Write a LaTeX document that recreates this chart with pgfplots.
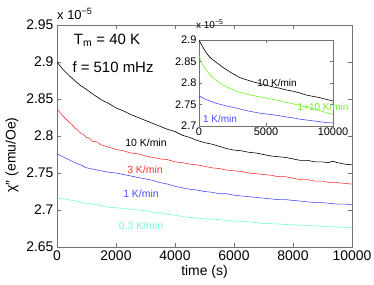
\documentclass[border=0pt]{standalone}
\usepackage{fontspec}
\setmainfont{Liberation Sans}
\usepackage{pgfplots}
\pgfplotsset{compat=1.18}
\definecolor{cred}{rgb}{1,0.2,0.2}
\definecolor{cblue}{rgb}{0.3,0.3,1}
\definecolor{caqua}{rgb}{0.45,1,0.85}
\definecolor{cgreen}{rgb}{0.45,0.95,0.15}
\definecolor{axgray}{gray}{0.45}
\begin{document}
\begin{tikzpicture}[x=1bp,y=1bp]
\useasboundingbox (0,0) rectangle (374,285);
\begin{axis}[at={(57bp,38bp)}, anchor=south west,
  scale only axis, width=295bp, height=222bp,
  xmin=0, xmax=10000, ymin=2.65, ymax=2.95,
  xtick={0,2000,4000,6000,8000,10000},
  ytick={2.65,2.7,2.75,2.8,2.85,2.9,2.95},
  scaled ticks=false,
  /pgf/number format/assume math mode=true,
  /pgf/number format/1000 sep={},
  tick align=inside, major tick length=4bp,
  axis line style={axgray}, tick style={axgray},
  tick label style={font=\fontsize{14}{14}\selectfont},
  xlabel={time (s)}, xlabel style={font=\fontsize{14}{14}\selectfont, yshift=2bp},
]
\addplot[black, line width=0.6pt] coordinates {
(0,2.900)(100,2.895)(200,2.890)(400,2.882)(600,2.875)(800,2.868)(1000,2.863)(1200,2.857)
(1500,2.849)(1750,2.844)(2000,2.838)(2250,2.834)(2500,2.829)(2750,2.825)(3000,2.821)(3250,2.817)
(3500,2.813)(3750,2.809)(4000,2.806)(4250,2.801)(4500,2.798)(4750,2.794)(5000,2.791)(5250,2.789)
(5500,2.786)(5750,2.783)(6000,2.781)(6250,2.780)(6500,2.778)(6750,2.777)(7000,2.775)(7250,2.773)
(7500,2.772)(7750,2.771)(8000,2.769)(8250,2.767)(8500,2.767)(8750,2.765)(9000,2.765)(9200,2.764)
(9350,2.766)(9500,2.764)(9750,2.762)(10000,2.761)};
\addplot[cred, line width=0.6pt] coordinates {
(0,2.837)(100,2.832)(200,2.827)(300,2.823)(400,2.819)(500,2.816)(600,2.811)(700,2.808)
(800,2.804)(900,2.802)(1000,2.798)(1100,2.797)(1200,2.793)(1350,2.792)(1500,2.788)(1750,2.785)
(2000,2.782)(2250,2.780)(2500,2.777)(2750,2.776)(3000,2.773)(3250,2.771)(3500,2.769)(3750,2.768)
(4000,2.765)(4250,2.764)(4500,2.762)(4750,2.761)(5000,2.759)(5250,2.757)(5500,2.756)(5750,2.754)
(6000,2.753)(6250,2.752)(6500,2.750)(6750,2.749)(7000,2.748)(7250,2.747)(7500,2.745)(7750,2.745)
(8000,2.743)(8250,2.741)(8500,2.741)(8750,2.739)(9000,2.739)(9250,2.737)(9500,2.737)(9750,2.736)(10000,2.735)};
\addplot[cblue, line width=0.6pt] coordinates {
(0,2.776)(150,2.773)(300,2.770)(450,2.767)(600,2.764)(800,2.761)(1000,2.757)(1250,2.755)
(1500,2.753)(1750,2.751)(2000,2.750)(2250,2.748)(2500,2.746)(2750,2.744)(3000,2.742)(3250,2.740)
(3500,2.737)(3750,2.735)(4000,2.732)(4250,2.730)(4500,2.728)(4750,2.727)(5000,2.725)(5250,2.724)
(5500,2.722)(5750,2.722)(6000,2.720)(6250,2.719)(6500,2.718)(6750,2.717)(7000,2.716)(7250,2.715)
(7500,2.714)(7750,2.714)(8000,2.713)(8250,2.712)(8500,2.711)(8750,2.710)(9000,2.710)(9250,2.709)
(9500,2.708)(9750,2.708)(10000,2.707)};
\addplot[caqua, line width=0.6pt] coordinates {
(0,2.716)(250,2.715)(500,2.713)(750,2.711)(1000,2.709)(1250,2.708)(1500,2.706)(1750,2.704)
(2000,2.703)(2250,2.702)(2500,2.701)(2750,2.700)(3000,2.699)(3250,2.697)(3500,2.696)(3750,2.694)
(4000,2.693)(4250,2.691)(4500,2.690)(4750,2.689)(5000,2.688)(5500,2.687)(6000,2.685)(6500,2.684)
(7000,2.682)(7500,2.681)(8000,2.680)(8500,2.679)(9000,2.678)(9500,2.677)(10000,2.676)};
\end{axis}
\node[anchor=base west, font=\fontsize{13}{13}\selectfont, inner sep=0] at (57,266) {x 10\textsuperscript{−5}};
\node[rotate=90, font=\fontsize{14}{14}\selectfont] at (12,130) {χ″ (emu/Oe)};
\node[font=\fontsize{15}{15}\selectfont] at (107,245) {T\textsubscript{m} = 40 K};
\node[font=\fontsize{15}{15}\selectfont] at (113,218) {f = 510 mHz};
\node[font=\fontsize{10.5}{10.5}\selectfont, text=black] at (146,142) {10 K/min};
\node[font=\fontsize{10.5}{10.5}\selectfont, text=cred] at (145,115) {3 K/min};
\node[font=\fontsize{10.5}{10.5}\selectfont, text=cblue] at (141,91) {1 K/min};
\node[font=\fontsize{10.5}{10.5}\selectfont, text=caqua] at (141,59) {0.3 K/min};
\begin{axis}[at={(199bp,159bp)}, anchor=south west,
  scale only axis, width=134bp, height=86bp,
  xmin=0, xmax=10000, ymin=2.7, ymax=2.9,
  xtick={0,5000,10000},
  ytick={2.7,2.75,2.8,2.85,2.9},
  scaled ticks=false,
  /pgf/number format/assume math mode=true,
  /pgf/number format/1000 sep={},
  tick align=inside, major tick length=3bp,
  axis line style={axgray}, tick style={axgray},
  axis background/.style={fill=white},
  tick label style={font=\fontsize{11}{11}\selectfont},
  xticklabel style={yshift=2bp},
  yticklabel style={xshift=1bp},
]
\addplot[black, line width=0.6pt] coordinates {
(0,2.900)(100,2.894)(200,2.888)(350,2.880)(500,2.872)(650,2.866)(800,2.860)(1000,2.855)
(1200,2.850)(1500,2.843)(1750,2.837)(2000,2.832)(2250,2.827)(2500,2.822)(2750,2.818)(3000,2.813)
(3500,2.808)(4000,2.803)(4500,2.799)(5000,2.795)(5500,2.791)(6000,2.788)(6500,2.784)(7000,2.781)
(7500,2.777)(8000,2.772)(8500,2.769)(9000,2.766)(9500,2.762)(10000,2.758)};
\addplot[cgreen, line width=0.6pt] coordinates {
(0,2.865)(100,2.856)(200,2.848)(350,2.839)(500,2.832)(650,2.826)(800,2.820)(1000,2.814)
(1200,2.808)(1500,2.801)(1750,2.796)(2000,2.792)(2250,2.788)(2500,2.785)(2750,2.782)(3000,2.779)
(3500,2.775)(4000,2.771)(4500,2.768)(5000,2.765)(5500,2.762)(6000,2.759)(6500,2.755)(7000,2.752)
(7500,2.748)(8000,2.744)(8500,2.740)(9000,2.736)(9500,2.731)(10000,2.727)};
\addplot[cblue, line width=0.6pt] coordinates {
(0,2.770)(250,2.766)(500,2.762)(750,2.759)(1000,2.756)(1250,2.753)(1500,2.751)(1750,2.749)
(2000,2.747)(2250,2.745)(2500,2.744)(2750,2.742)(3000,2.740)(3500,2.736)(4000,2.733)(4500,2.730)
(5000,2.728)(5500,2.726)(6000,2.724)(6500,2.721)(7000,2.719)(7500,2.716)(8000,2.714)(8500,2.712)
(9000,2.710)(9500,2.708)(10000,2.707)};
\end{axis}
\node[anchor=base west, font=\fontsize{10}{10}\selectfont, inner sep=0] at (196,257) {x 10\textsuperscript{−5}};
\node[font=\fontsize{10}{10}\selectfont, text=black] at (277,202) {10 K/min};
\node[font=\fontsize{10}{10}\selectfont, text=cgreen] at (323,178) {1+10 K/min};
\node[font=\fontsize{10}{10}\selectfont, text=cblue] at (220,166) {1 K/min};
\end{tikzpicture}
\end{document}
